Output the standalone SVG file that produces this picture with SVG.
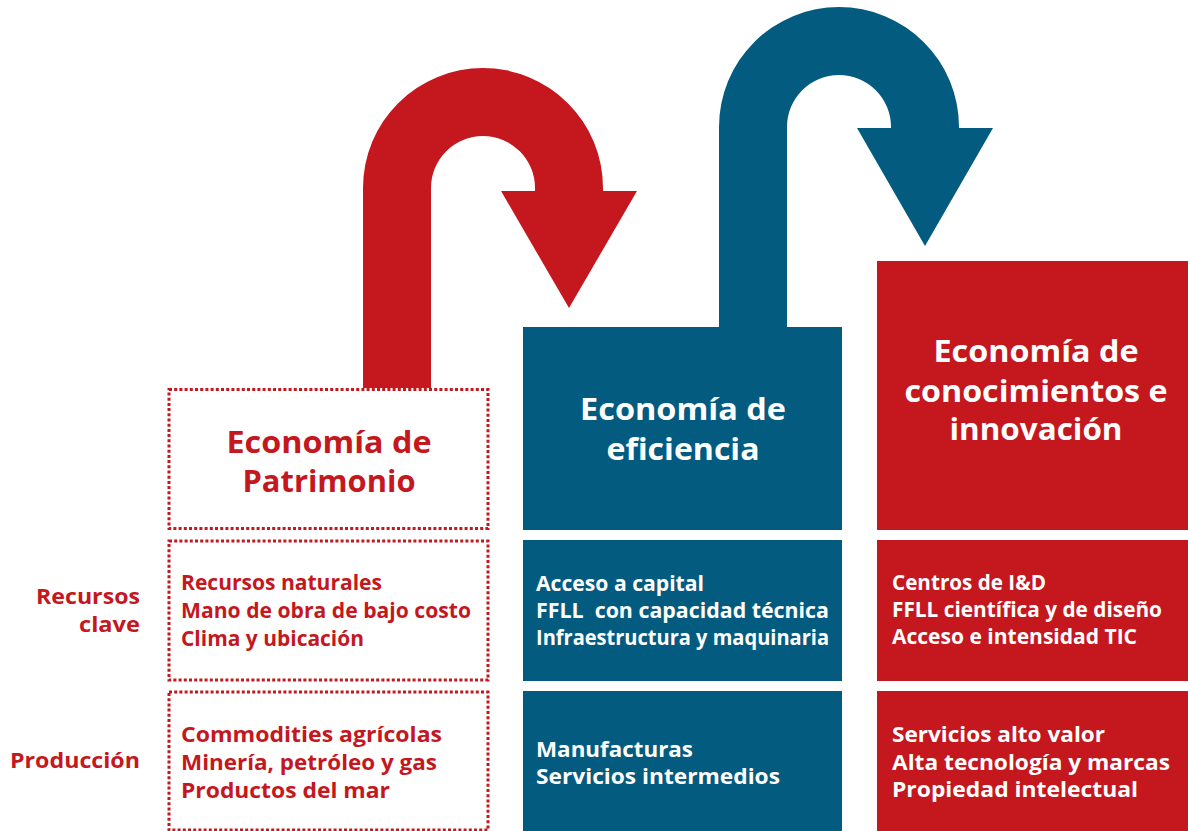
<svg xmlns="http://www.w3.org/2000/svg" width="1188" height="831" viewBox="0 0 1188 831">
<style>
.red{fill:#C4171E}
.blue{fill:#035B80}
.dot{fill:none;stroke:#C4171E;stroke-width:3;stroke-dasharray:3 2.2}
text{font-family:"Open Sans","Liberation Sans",sans-serif;font-weight:700}
.t{font-size:30px;text-anchor:middle}
.b{font-size:21px}
.w{fill:#ffffff}
.r{fill:#C4171E}
.lab{font-size:22px;text-anchor:end;fill:#C4171E}
</style>
<rect width="1188" height="831" fill="#ffffff"/>
<g id="connectors">
<path class="red" d="M363,388 V188 A120,120 0 0 1 603,188 V191 H637 L569,308 L501,191 H535 V188 A52,52 0 0 0 431,188 V388 Z"/>
<path class="blue" d="M719,327 V127 A120,120 0 0 1 959,127 V128 H993 L925,246 L857,128 H891 V127 A52,52 0 0 0 787,127 V327 Z"/>
</g>
<g id="labels">
<text class="lab" x="140" y="604" textLength="104" lengthAdjust="spacingAndGlyphs">Recursos</text>
<text class="lab" x="140" y="632" textLength="61" lengthAdjust="spacingAndGlyphs">clave</text>
<text class="lab" x="140" y="768" textLength="130" lengthAdjust="spacingAndGlyphs">Producción</text>
</g>
<g id="patrimonio">
<rect class="dot" x="169" y="389.5" width="319" height="139"/>
<text class="t r" x="329" y="453" textLength="205" lengthAdjust="spacingAndGlyphs">Economía de</text>
<text class="t r" x="329" y="492" textLength="173" lengthAdjust="spacingAndGlyphs">Patrimonio</text>
</g>
<g id="patrimonio-recursos">
<rect class="dot" x="169" y="541" width="319" height="139"/>
<text class="b r" x="181" y="590" textLength="201" lengthAdjust="spacingAndGlyphs">Recursos naturales</text>
<text class="b r" x="181" y="618" textLength="290" lengthAdjust="spacingAndGlyphs">Mano de obra de bajo costo</text>
<text class="b r" x="181" y="646" textLength="183" lengthAdjust="spacingAndGlyphs">Clima y ubicación</text>
</g>
<g id="patrimonio-produccion">
<rect class="dot" x="169" y="692" width="319" height="138"/>
<text class="b r" x="181" y="742" textLength="261" lengthAdjust="spacingAndGlyphs">Commodities agrícolas</text>
<text class="b r" x="181" y="770" textLength="256" lengthAdjust="spacingAndGlyphs">Minería, petróleo y gas</text>
<text class="b r" x="181" y="798" textLength="209" lengthAdjust="spacingAndGlyphs">Productos del mar</text>
</g>
<g id="eficiencia">
<rect class="blue" x="523" y="327" width="319" height="203"/>
<text class="t w" x="683" y="420" textLength="206" lengthAdjust="spacingAndGlyphs">Economía de</text>
<text class="t w" x="683" y="460" textLength="153" lengthAdjust="spacingAndGlyphs">eficiencia</text>
</g>
<g id="eficiencia-recursos">
<rect class="blue" x="523" y="540" width="319" height="141"/>
<text class="b w" x="536" y="591" textLength="168" lengthAdjust="spacingAndGlyphs">Acceso a capital</text>
<text class="b w" x="536" y="618" xml:space="preserve" textLength="293" lengthAdjust="spacingAndGlyphs">FFLL  con capacidad técnica</text>
<text class="b w" x="536" y="645" textLength="293" lengthAdjust="spacingAndGlyphs">Infraestructura y maquinaria</text>
</g>
<g id="eficiencia-produccion">
<rect class="blue" x="523" y="691" width="319" height="140"/>
<text class="b w" x="536" y="757" textLength="157" lengthAdjust="spacingAndGlyphs">Manufacturas</text>
<text class="b w" x="536" y="784" textLength="244" lengthAdjust="spacingAndGlyphs">Servicios intermedios</text>
</g>
<g id="conocimiento">
<rect class="red" x="877" y="261" width="311" height="269"/>
<text class="t w" x="1036" y="362" textLength="205" lengthAdjust="spacingAndGlyphs">Economía de</text>
<text class="t w" x="1036" y="402" textLength="263" lengthAdjust="spacingAndGlyphs">conocimientos e</text>
<text class="t w" x="1036" y="440" textLength="173" lengthAdjust="spacingAndGlyphs">innovación</text>
</g>
<g id="conocimiento-recursos">
<rect class="red" x="877" y="540" width="311" height="141"/>
<text class="b w" x="892" y="590" textLength="154" lengthAdjust="spacingAndGlyphs">Centros de I&amp;D</text>
<text class="b w" x="892" y="617" textLength="270" lengthAdjust="spacingAndGlyphs">FFLL científica y de diseño</text>
<text class="b w" x="892" y="644" textLength="245" lengthAdjust="spacingAndGlyphs">Acceso e intensidad TIC</text>
</g>
<g id="conocimiento-produccion">
<rect class="red" x="877" y="691" width="311" height="140"/>
<text class="b w" x="892" y="742" textLength="213" lengthAdjust="spacingAndGlyphs">Servicios alto valor</text>
<text class="b w" x="892" y="770" textLength="278" lengthAdjust="spacingAndGlyphs">Alta tecnología y marcas</text>
<text class="b w" x="892" y="797" textLength="246" lengthAdjust="spacingAndGlyphs">Propiedad intelectual</text>
</g>
</svg>
